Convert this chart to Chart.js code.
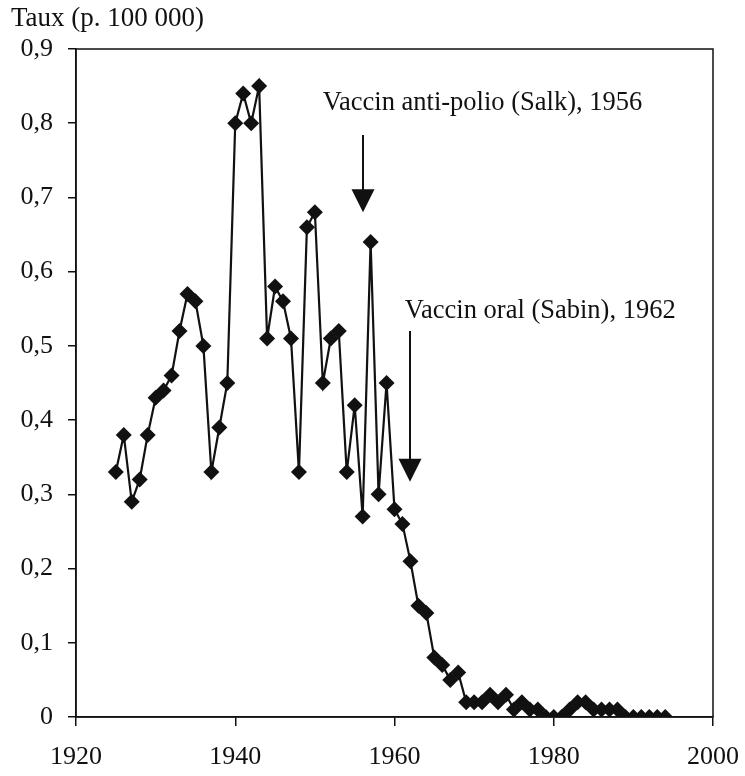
<!DOCTYPE html>
<html><head><meta charset="utf-8">
<script src="https://cdn.jsdelivr.net/npm/chart.js@4"></script>
<style>html,body{margin:0;padding:0;background:#fff}#wrap{width:745px;height:776px;position:relative}</style>
</head><body><div id="wrap"><canvas id="c" width="745" height="776"></canvas></div>
<script>
const years = [1925,1926,1927,1928,1929,1930,1931,1932,1933,1934,1935,1936,1937,1938,1939,
  1940,1941,1942,1943,1944,1945,1946,1947,1948,1949,1950,1951,1952,1953,1954,1955,1956,1957,1958,1959,
  1960,1961,1962,1963,1964,1965,1966,1967,1968,1969,1970,1971,1972,1973,1974,1975,1976,1977,1978,1979,
  1980,1981,1982,1983,1984,1985,1986,1987,1988,1989,1990,1991,1992,1993,1994];
const rates = [0.33,0.38,0.29,0.32,0.38,0.43,0.44,0.46,0.52,0.57,0.56,0.50,0.33,0.39,0.45,
  0.80,0.84,0.80,0.85,0.51,0.58,0.56,0.51,0.33,0.66,0.68,0.45,0.51,0.52,0.33,0.42,0.27,0.64,0.30,0.45,
  0.28,0.26,0.21,0.15,0.14,0.08,0.07,0.05,0.06,0.02,0.02,0.02,0.03,0.02,0.03,0.01,0.02,0.01,0.01,0,
  0,0,0.01,0.02,0.02,0.01,0.01,0.01,0.01,0,0,0,0,0,0];
const xTickValues = [1920,1940,1960,1980,2000];
const yTickValues = [0,0.1,0.2,0.3,0.4,0.5,0.6,0.7,0.8,0.9];
const yUnitLabel = 'Taux (p. 100 000)';
const noteTexts = ['Vaccin anti-polio (Salk), 1956', 'Vaccin oral (Sabin), 1962'];
const noteYears = [1956, 1962];

const FONT = '"Liberation Serif", "Times New Roman", serif';
const notePlacement = [
  {textX: 1951.0, textY: 0.827, arrowTop: 0.784, arrowTip: 0.68},
  {textX: 1961.3, textY: 0.547, arrowTop: 0.52, arrowTip: 0.317}
];

const extras = {
  id: 'extras',
  afterDraw(chart) {
    const {ctx, chartArea: a, scales: {x, y}} = chart;
    ctx.save();
    ctx.strokeStyle = '#111';
    ctx.lineWidth = 1.5;
    ctx.strokeRect(a.left, a.top, a.right - a.left, a.bottom - a.top);
    ctx.fillStyle = '#111';
    ctx.font = '27px ' + FONT;
    ctx.textBaseline = 'middle';
    ctx.textAlign = 'left';
    ctx.fillText(yUnitLabel, 11, 19);
    ctx.font = '26.5px ' + FONT;
    noteTexts.forEach((t, i) => {
      const p = notePlacement[i];
      ctx.fillText(t, x.getPixelForValue(p.textX), y.getPixelForValue(p.textY));
      const ax = Math.round(x.getPixelForValue(noteYears[i]));
      const top = y.getPixelForValue(p.arrowTop);
      const tip = y.getPixelForValue(p.arrowTip);
      ctx.lineWidth = 2;
      ctx.beginPath(); ctx.moveTo(ax, top); ctx.lineTo(ax, tip - 18); ctx.stroke();
      ctx.beginPath(); ctx.moveTo(ax - 11.5, tip - 23); ctx.lineTo(ax + 11.5, tip - 23); ctx.lineTo(ax, tip); ctx.closePath(); ctx.fill();
    });
    ctx.restore();
  }
};

new Chart(document.getElementById('c'), {
  type: 'line',
  data: {
    datasets: [{
      data: years.map((yr, i) => ({x: yr, y: rates[i]})),
      borderColor: '#111',
      backgroundColor: '#111',
      borderWidth: 2.2,
      pointStyle: 'rectRot',
      pointRadius: 8,
      pointBorderWidth: 0,
      tension: 0
    }]
  },
  options: {
    responsive: false,
    devicePixelRatio: 1,
    animation: false,
    layout: {padding: {top: 49, right: 32, left: 0, bottom: 0}},
    plugins: {legend: {display: false}, tooltip: {enabled: false}},
    scales: {
      x: {
        type: 'linear', min: 1920, max: 2000,
        afterBuildTicks(s) { s.ticks = xTickValues.map(v => ({value: v})); },
        afterFit(s) { s.height = 59; s.paddingRight = 0; s.paddingLeft = 0; },
        grid: {drawOnChartArea: false, drawTicks: true, tickLength: 9, color: '#111', lineWidth: 1.5},
        border: {display: true, color: '#111', width: 1.5},
        ticks: {color: '#111', font: {family: FONT, size: 26}, padding: 16, maxRotation: 0,
          callback: v => String(v)}
      },
      y: {
        min: 0, max: 0.9,
        afterBuildTicks(s) { s.ticks = yTickValues.map(v => ({value: v})); },
        afterFit(s) { s.width = 76; },
        grid: {drawOnChartArea: false, drawTicks: true, tickLength: 8, color: '#111', lineWidth: 1.5},
        border: {display: true, color: '#111', width: 1.5},
        ticks: {color: '#111', font: {family: FONT, size: 26}, padding: 15,
          callback: v => v === 0 ? '0' : v.toFixed(1).replace('.', ',')}
      }
    }
  },
  plugins: [extras]
});
</script></body></html>
